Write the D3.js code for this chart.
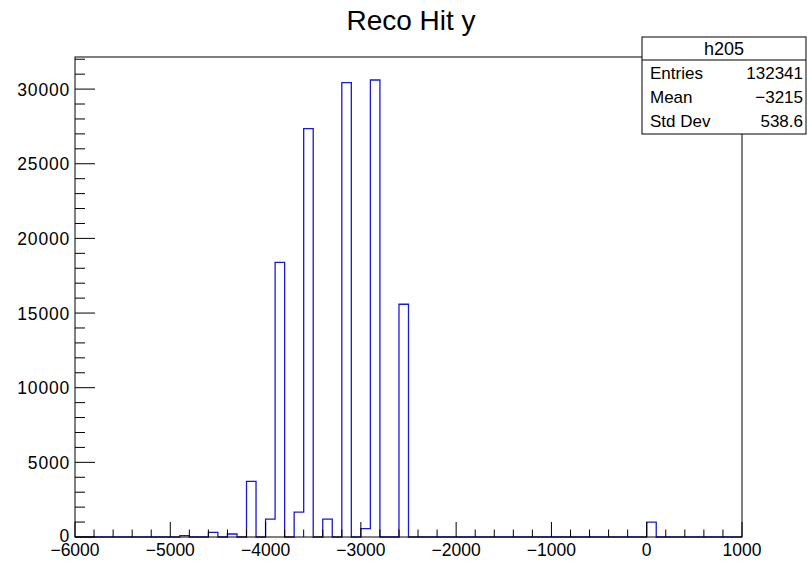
<!DOCTYPE html>
<html>
<head>
<meta charset="utf-8">
<script src="https://cdn.jsdelivr.net/npm/d3@7"></script>
<style>
  html, body { margin: 0; padding: 0; background: #fff; }
  svg { display: block; }
  text { font-family: "Liberation Sans", Arial, Helvetica, sans-serif; fill: #000; }
</style>
</head>
<body>
<svg id="chart" width="807" height="562"></svg>
<script>
// ---- data ----
const title = "Reco Hit y";
const histName = "h205";
const binWidth = 100;
const xRange = [-6000, 1000];
// lower edges of non-empty bins and their counts
const binStarts = [-4900, -4600, -4400, -4200, -4000, -3900, -3700, -3600, -3400, -3200, -3000, -2900, -2600, 0];
const counts    = [   90,   310,   200,  3730,  1200, 18400,  1670, 27350,  1200, 30430,   560, 30610, 15590, 1000];
const xTickValues = [-6000, -5000, -4000, -3000, -2000, -1000, 0, 1000];
const yTickValues = [0, 5000, 10000, 15000, 20000, 25000, 30000];
const statLabels = ["Entries", "Mean", "Std Dev"];
const statValues = ["132341", "\u22123215", "538.6"];

// ---- layout ----
const svg = d3.select("#chart");
const L = 75, R = 742, T = 57, B = 537;
const yMax = 32150;

const x = d3.scaleLinear().domain(xRange).range([L, R]);
const y = d3.scaleLinear().domain([0, yMax]).range([B, T]);

// full bin list
const nBins = Math.round((xRange[1] - xRange[0]) / binWidth);
const bins = d3.range(nBins).map(i => {
  const lo = xRange[0] + i * binWidth;
  const k = binStarts.indexOf(lo);
  return { lo, hi: lo + binWidth, c: k >= 0 ? counts[k] : 0 };
});

// histogram outline
const pts = [[xRange[0], 0]];
bins.forEach(b => { pts.push([b.lo, b.c]); pts.push([b.hi, b.c]); });
pts.push([xRange[1], 0]);
const line = d3.line().x(d => x(d[0])).y(d => y(d[1]));
svg.append("path")
  .attr("d", line(pts))
  .attr("fill", "none")
  .attr("stroke", "#1a1ad0")
  .attr("stroke-width", 1.3);

// frame
svg.append("rect")
  .attr("x", L).attr("y", T).attr("width", R - L).attr("height", B - T)
  .attr("fill", "none").attr("stroke", "#000").attr("stroke-width", 1);

// x axis ticks (inside, upward)
const xMinor = d3.range(xRange[0], xRange[1] + 1, 200);
const gx = svg.append("g");
gx.selectAll("line.minor").data(xMinor).enter().append("line")
  .attr("x1", d => x(d)).attr("x2", d => x(d))
  .attr("y1", B).attr("y2", d => B - (d % 1000 === 0 ? 15 : 7.5))
  .attr("stroke", "#000").attr("stroke-width", 1);
gx.selectAll("text").data(xTickValues).enter().append("text")
  .attr("x", d => x(d)).attr("y", 556)
  .attr("text-anchor", "middle")
  .style("font-size", "17.5px")
  .text(d => d < 0 ? "\u2212" + Math.abs(d) : String(d));

// y axis ticks (inside, rightward)
const yMinor = d3.range(0, yMax, 1000);
const gy = svg.append("g");
gy.selectAll("line").data(yMinor).enter().append("line")
  .attr("x1", L).attr("x2", d => L + (d % 5000 === 0 ? 20 : 10))
  .attr("y1", d => y(d)).attr("y2", d => y(d))
  .attr("stroke", "#000").attr("stroke-width", 1);
gy.selectAll("text").data(yTickValues).enter().append("text")
  .attr("x", 70).attr("y", d => y(d) + 6.5 - (d === 0 ? 2 : 0))
  .attr("text-anchor", "end")
  .style("font-size", "17.5px")
  .style("letter-spacing", "0.8px")
  .text(d => String(d));

// title
svg.append("text")
  .attr("x", 411).attr("y", 30)
  .attr("text-anchor", "middle")
  .style("font-size", "28px")
  .text(title);

// stats box
const bx = 642, by = 37, bw = 164, bh = 97;
svg.append("rect").attr("x", bx).attr("y", by).attr("width", bw).attr("height", bh)
  .attr("fill", "#fff").attr("stroke", "#000").attr("stroke-width", 1);
svg.append("line").attr("x1", bx).attr("x2", bx + bw).attr("y1", 60).attr("y2", 60)
  .attr("stroke", "#000").attr("stroke-width", 1);
svg.append("text").attr("x", bx + bw / 2).attr("y", 55)
  .attr("text-anchor", "middle").style("font-size", "18px").text(histName);
const rowY = d3.scaleLinear().domain([0, 1]).range([79, 103]);
svg.selectAll("text.slab").data(statLabels).enter().append("text")
  .attr("class", "slab")
  .attr("x", 650).attr("y", (d, i) => rowY(i))
  .style("font-size", "17px").text(d => d);
svg.selectAll("text.sval").data(statValues).enter().append("text")
  .attr("class", "sval")
  .attr("x", 803).attr("y", (d, i) => rowY(i))
  .attr("text-anchor", "end")
  .style("font-size", "17px").text(d => d);
</script>
</body>
</html>
